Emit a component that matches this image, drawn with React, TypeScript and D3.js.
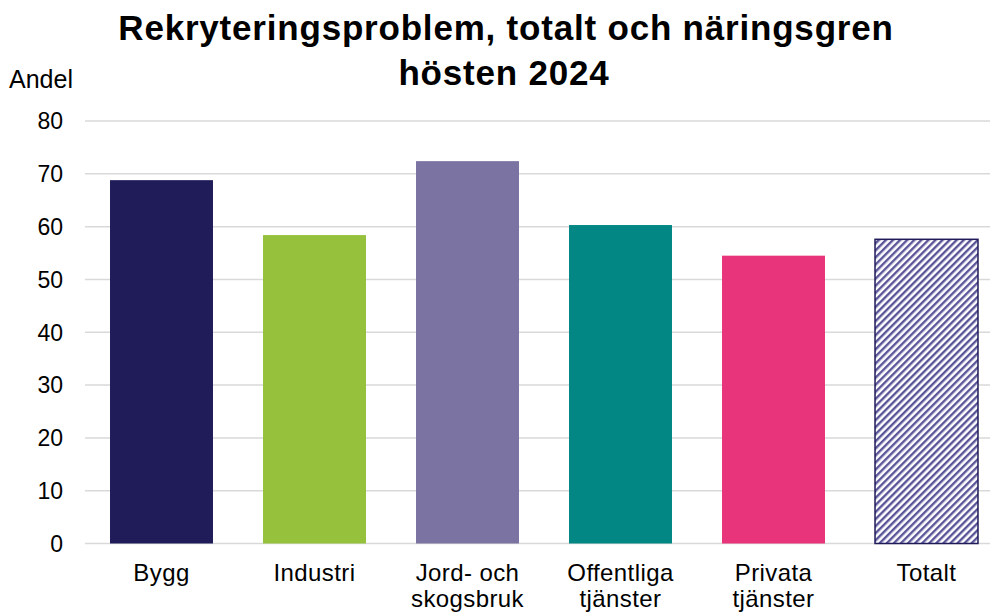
import React from "react";
import * as d3 from "d3";

const categories = ["Bygg", "Industri", "Jord- och\nskogsbruk", "Offentliga\ntjänster", "Privata\ntjänster", "Totalt"];
const values = [68.8, 58.4, 72.4, 60.3, 54.5, 57.6];
const colors = ["#201c5a", "#95c13d", "#7b74a3", "#038784", "#e8347a", "url(#hatch)"];
const yTicks = [0, 10, 20, 30, 40, 50, 60, 70, 80];
const titleLines = ["Rekryteringsproblem, totalt och näringsgren", "hösten 2024"];

export default function App() {
  const W = 990, H = 612;
  const x = d3.scaleBand<number>().domain(d3.range(categories.length)).range([85, 1003]).paddingInner(0.327).paddingOuter(0.1635);
  const y = d3.scaleLinear().domain([0, 80]).range([543.5, 121]);
  const font = "Arial, 'Liberation Sans', sans-serif";
  const titleX = [506, 504];
  return (
    <svg width={W} height={H} style={{ position: "absolute", left: 0, top: 0, background: "#fff" }} fontFamily={font}>
      <defs>
        <pattern id="hatch" patternUnits="userSpaceOnUse" width="5" height="5" patternTransform="rotate(45)">
          <rect width="5" height="5" fill="#ffffff" />
          <rect width="2.4" height="5" fill="#5a5499" />
        </pattern>
      </defs>
      {titleLines.map((t, i) => (
        <text key={i} x={titleX[i]} y={40 + i * 45} textAnchor="middle" fontSize={35} letterSpacing={0.8} fontWeight="bold" fill="#000">{t}</text>
      ))}
      <text x={9} y={88} fontSize={25} fill="#000">Andel</text>
      {yTicks.map(t => (
        <g key={t}>
          <line x1={85} x2={W} y1={y(t)} y2={y(t)} stroke="#d9d9d9" strokeWidth={1.5} />
          <text x={63} y={y(t)} dy="0.36em" textAnchor="end" fontSize={23} fill="#000">{t}</text>
        </g>
      ))}
      {values.map((v, i) => (
        <rect key={i} x={x(i)} y={y(v)} width={x.bandwidth()} height={y(0) - y(v)} fill={colors[i]}
          stroke={i === 5 ? "#201c5a" : "none"} strokeWidth={i === 5 ? 1.5 : 0} />
      ))}
      {categories.map((c, i) => (
        <text key={i} x={(x(i) as number) + x.bandwidth() / 2} y={581} textAnchor="middle" fontSize={24} letterSpacing={0.4} fill="#000">
          {c.split("\n").map((l, j) => (
            <tspan key={j} x={(x(i) as number) + x.bandwidth() / 2} dy={j === 0 ? 0 : 26}>{l}</tspan>
          ))}
        </text>
      ))}
    </svg>
  );
}
